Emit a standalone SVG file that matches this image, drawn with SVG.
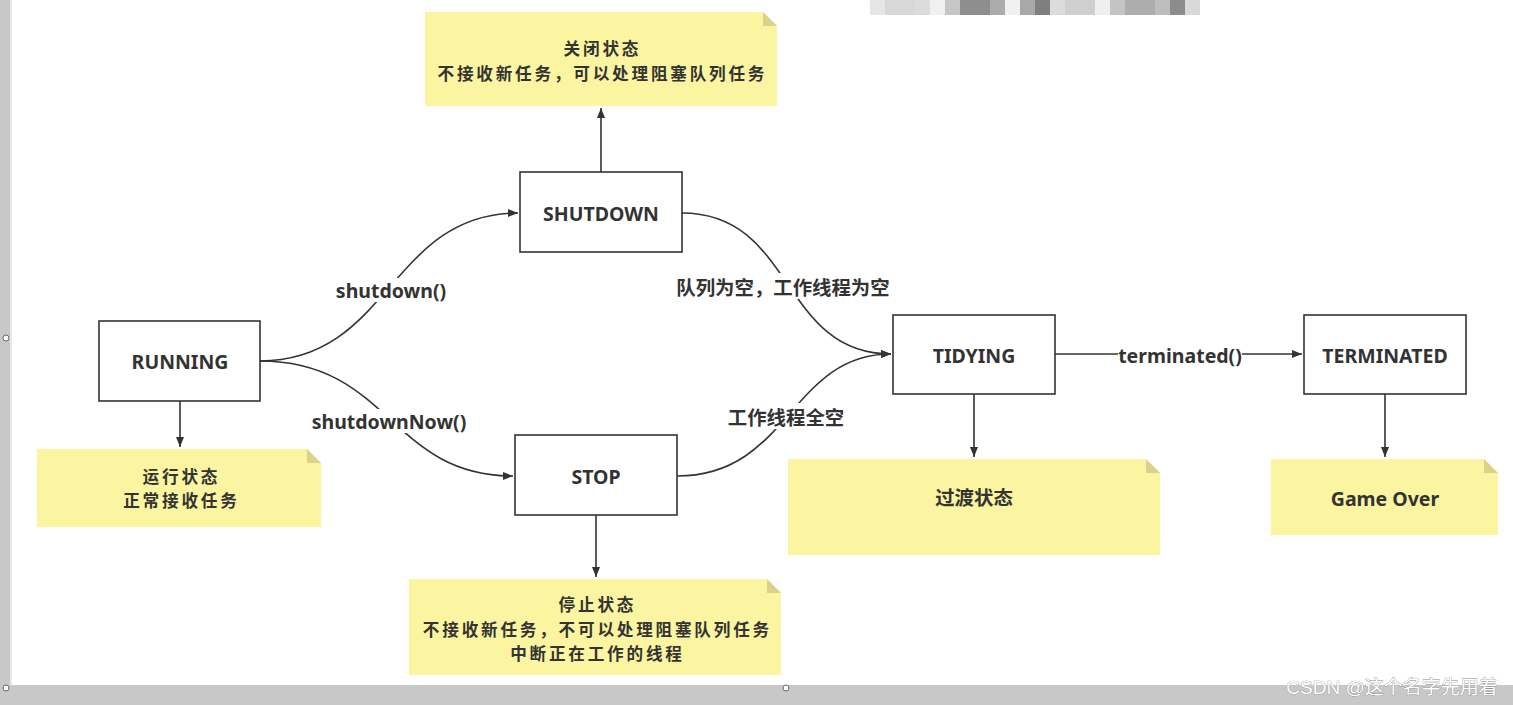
<svg xmlns="http://www.w3.org/2000/svg" width="1513" height="705" viewBox="0 0 1513 705">
<defs>
<marker id="ah" viewBox="0 0 10 10" refX="10" refY="5" markerWidth="10" markerHeight="10" markerUnits="userSpaceOnUse" orient="auto">
<path d="M0,1 L10,5 L0,9 Z" fill="#333"/>
</marker>
<style>
.box{fill:#fff;stroke:#333;stroke-width:1.6}
.lbl{font-family:"Noto Sans","Noto Sans CJK SC",sans-serif;font-weight:bold;font-size:19.5px;fill:#333;text-anchor:middle;dominant-baseline:central}
.cn{font-family:"Noto Sans CJK SC",sans-serif;font-weight:bold;font-size:19.4px;fill:#333;text-anchor:middle;dominant-baseline:central}
.ml{font-family:"Noto Sans CJK SC",sans-serif;font-weight:bold;font-size:16.6px;letter-spacing:2.8px;fill:#333;text-anchor:middle;dominant-baseline:central}
.note{fill:#fbf5a1}
.fold{fill:#d8d28a}
.edge{fill:none;stroke:#333;stroke-width:1.6}
.bg{fill:#fff}
</style>
</defs>
<rect width="1513" height="705" fill="#fff"/>
<rect x="0" y="0" width="10" height="705" fill="#c8c8c8"/>
<rect x="0" y="685" width="1513" height="20" fill="#c8c8c8"/>
<rect x="10" y="0" width="2" height="685" fill="#e8e8e8"/>
<circle cx="6" cy="338" r="3" fill="#fff" stroke="#666" stroke-width="1"/>
<circle cx="6" cy="688" r="3" fill="#fff" stroke="#666" stroke-width="1"/>
<circle cx="786" cy="688" r="3" fill="#fff" stroke="#666" stroke-width="1"/>
<g id="blur">
<rect x="870" y="0" width="15" height="15" fill="#e6e6e6"/>
<rect x="885" y="0" width="30" height="15" fill="#d8d8d8"/>
<rect x="915" y="0" width="15" height="15" fill="#dcdcdc"/>
<rect x="930" y="0" width="15" height="15" fill="#f0f0f0"/>
<rect x="945" y="0" width="15" height="15" fill="#c6c6c6"/>
<rect x="960" y="0" width="30" height="15" fill="#8e8e8e"/>
<rect x="990" y="0" width="15" height="15" fill="#ababab"/>
<rect x="1005" y="0" width="15" height="15" fill="#f0f0f0"/>
<rect x="1020" y="0" width="15" height="15" fill="#a8a8a8"/>
<rect x="1035" y="0" width="15" height="15" fill="#7f7f7f"/>
<rect x="1050" y="0" width="15" height="15" fill="#dcdcdc"/>
<rect x="1065" y="0" width="30" height="15" fill="#cfcfcf"/>
<rect x="1095" y="0" width="15" height="15" fill="#efefef"/>
<rect x="1110" y="0" width="15" height="15" fill="#c4c4c4"/>
<rect x="1125" y="0" width="30" height="15" fill="#adadad"/>
<rect x="1155" y="0" width="15" height="15" fill="#bdbdbd"/>
<rect x="1170" y="0" width="15" height="15" fill="#8c8c8c"/>
<rect x="1185" y="0" width="15" height="15" fill="#d9d9d9"/>
</g>

<g id="connectors">
<path class="edge" d="M601,172 V108" marker-end="url(#ah)"/>
<path class="edge" d="M180,401 V447" marker-end="url(#ah)"/>
<path class="edge" d="M596,515 V577" marker-end="url(#ah)"/>
<path class="edge" d="M974,394 V457" marker-end="url(#ah)"/>
<path class="edge" d="M1385,394 V457" marker-end="url(#ah)"/>
<path class="edge" d="M1055,354 H1302" marker-end="url(#ah)"/>
<path class="edge" d="M260,361 C390,361 390,213 518,213" marker-end="url(#ah)"/>
<path class="edge" d="M260,361 C390,361 390,476 513,476" marker-end="url(#ah)"/>
<path class="edge" d="M682,213 C795,213 780,354 891,354" marker-end="url(#ah)"/>
<path class="edge" d="M677,476 C790,476 790,354 891,354" marker-end="url(#ah)"/>
<rect class="bg" x="1118" y="343" width="124" height="24"/>
<text class="lbl" x="1180" y="355">terminated()</text>
<rect class="bg" x="332" y="278" width="118" height="24"/>
<text class="lbl" x="391" y="290">shutdown()</text>
<rect class="bg" x="307" y="409" width="164" height="24"/>
<text class="lbl" x="389" y="421">shutdownNow()</text>
<rect class="bg" x="666" y="273" width="233" height="26"/>
<text class="cn" x="783" y="286">队列为空，工作线程为空</text>
<rect class="bg" x="726" y="403" width="121" height="26"/>
<text class="cn" x="786" y="416">工作线程全空</text>
</g>

<g id="note-shutdown">
<path class="note" d="M425,12 H763 L777,26 V106 H425 Z"/>
<path class="fold" d="M763,12 L777,26 H763 Z"/>
<text class="ml" x="602.4" y="48">关闭状态</text>
<text class="ml" x="602.4" y="73">不接收新任务，可以处理阻塞队列任务</text>
</g>
<g id="note-running">
<path class="note" d="M37,449 H307 L321,463 V527 H37 Z"/>
<path class="fold" d="M307,449 L321,463 H307 Z"/>
<text class="ml" x="181.4" y="475.5">运行状态</text>
<text class="ml" x="181.4" y="500">正常接收任务</text>
</g>
<g id="note-stop">
<path class="note" d="M409,579 H767 L781,593 V675 H409 Z"/>
<path class="fold" d="M767,579 L781,593 H767 Z"/>
<text class="ml" x="597.4" y="604">停止状态</text>
<text class="ml" x="597.4" y="628.5">不接收新任务，不可以处理阻塞队列任务</text>
<text class="ml" x="597.4" y="653">中断正在工作的线程</text>
</g>
<g id="note-tidying">
<path class="note" d="M788,459 H1146 L1160,473 V555 H788 Z"/>
<path class="fold" d="M1146,459 L1160,473 H1146 Z"/>
<text class="cn" x="974" y="496">过渡状态</text>
</g>
<g id="note-terminated">
<path class="note" d="M1271,459 H1484 L1498,473 V535 H1271 Z"/>
<path class="fold" d="M1484,459 L1498,473 H1484 Z"/>
<text class="lbl" x="1385" y="498">Game Over</text>
</g>

<g id="running">
<rect class="box" x="99" y="321" width="161" height="80"/>
<text class="lbl" x="180" y="361">RUNNING</text>
</g>
<g id="shutdown">
<rect class="box" x="520" y="172" width="162" height="80"/>
<text class="lbl" x="601" y="213">SHUTDOWN</text>
</g>
<g id="stop">
<rect class="box" x="515" y="435" width="162" height="80"/>
<text class="lbl" x="596" y="476">STOP</text>
</g>
<g id="tidying">
<rect class="box" x="893" y="315" width="162" height="79"/>
<text class="lbl" x="974" y="355">TIDYING</text>
</g>
<g id="terminated">
<rect class="box" x="1304" y="315" width="162" height="79"/>
<text class="lbl" x="1385" y="355">TERMINATED</text>
</g>

<text x="1392" y="687" font-family="'Liberation Sans','Noto Sans CJK SC',sans-serif" font-size="19" fill="#fff" stroke="#8a8a8a" stroke-width="0.7" paint-order="stroke" text-anchor="middle" dominant-baseline="central">CSDN @这个名字先用着</text>
</svg>
